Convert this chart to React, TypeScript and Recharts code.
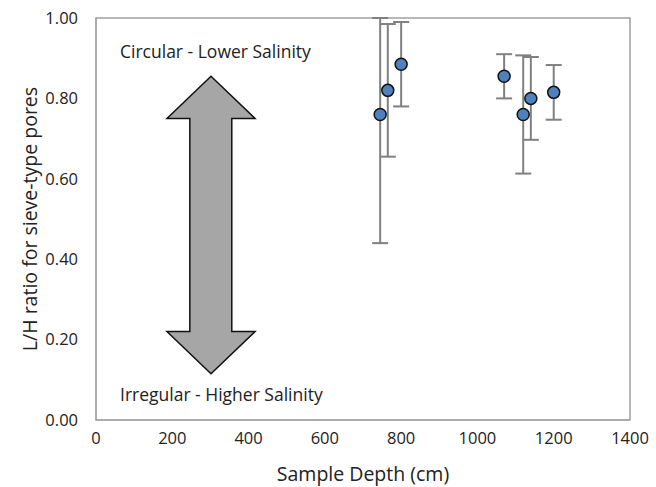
import {
  ScatterChart,
  Scatter,
  XAxis,
  YAxis,
  ErrorBar,
  ReferenceArea,
  ReferenceDot,
} from "recharts"

// sample depths (cm) and L/H ratios
const depths = [745, 765, 800, 1070, 1120, 1140, 1200]
const ratios = [0.76, 0.82, 0.885, 0.855, 0.76, 0.8, 0.815]
const errors = [0.32, 0.165, 0.105, 0.055, 0.147, 0.103, 0.068]

const xTicks = [0, 200, 400, 600, 800, 1000, 1200, 1400]
const yTicks = [0, 0.2, 0.4, 0.6, 0.8, 1.0]

// double arrow extent in data units
const arrowX = [186, 417]
const arrowY = [0.115, 0.855]
const shaftX = [246, 356]
const headY = [0.22, 0.75]

// error bars are cut at the top of the plot, like the original
const data = depths.map((d, i) => ({
  depth: d,
  ratio: ratios[i],
  err: [errors[i], Math.min(errors[i], 1 - ratios[i])],
}))

const font = "'Open Sans', 'Noto Sans', sans-serif"
const textColor = "#222"

function ArrowShape(props: any) {
  const { x, y, width, height } = props
  const sx = (v: number) => x + ((v - arrowX[0]) / (arrowX[1] - arrowX[0])) * width
  const sy = (v: number) => y + ((arrowY[1] - v) / (arrowY[1] - arrowY[0])) * height
  const cx = x + width / 2
  const pts = [
    [cx, y],
    [x + width, sy(headY[1])],
    [sx(shaftX[1]), sy(headY[1])],
    [sx(shaftX[1]), sy(headY[0])],
    [x + width, sy(headY[0])],
    [cx, y + height],
    [x, sy(headY[0])],
    [sx(shaftX[0]), sy(headY[0])],
    [sx(shaftX[0]), sy(headY[1])],
    [x, sy(headY[1])],
  ]
  return (
    <polygon
      points={pts.map((p) => p.join(",")).join(" ")}
      fill="#a6a6a6"
      stroke="#111"
      strokeWidth={1.5}
    />
  )
}

export default function App() {
  return (
    <div style={{ position: "absolute", left: 0, top: 0, background: "#fff" }}>
      <ScatterChart width={656} height={487} margin={{ top: 18, right: 26, bottom: 0, left: 0 }}>
        <XAxis
          type="number"
          dataKey="depth"
          domain={[0, 1400]}
          ticks={xTicks}
          height={67}
          tickLine={false}
          axisLine={{ stroke: "#a0a0a0" }}
          tickMargin={6}
          tick={{ fontSize: 16.5, fill: textColor, fontFamily: font }}
          label={{
            value: "Sample Depth (cm)",
            position: "insideBottom",
            offset: 6,
            style: { fontSize: 19.5, fill: textColor, fontFamily: font },
          }}
        />
        <YAxis
          type="number"
          dataKey="ratio"
          domain={[0, 1]}
          ticks={yTicks}
          allowDataOverflow
          width={96}
          tickLine={false}
          axisLine={{ stroke: "#a0a0a0" }}
          tickMargin={12}
          tickFormatter={(v: number) => v.toFixed(2)}
          tick={{ fontSize: 16.5, fill: textColor, fontFamily: font }}
          label={{
            value: "L/H ratio for sieve-type pores",
            angle: -90,
            position: "insideLeft",
            offset: 30,
            style: { fontSize: 19.5, fill: textColor, fontFamily: font, textAnchor: "middle" },
          }}
        />
        <ReferenceArea x1={0} x2={1400} y1={0} y2={1} fill="none" stroke="#a0a0a0" strokeWidth={1.5} />
        <ReferenceArea
          x1={arrowX[0]}
          x2={arrowX[1]}
          y1={arrowY[0]}
          y2={arrowY[1]}
          shape={<ArrowShape />}
        />
        <ReferenceDot
          x={63}
          y={0.915}
          r={0}
          fill="none"
          stroke="none"
          label={{
            value: "Circular - Lower Salinity",
            position: "right",
            offset: 0,
            style: { fontSize: 17.5, fill: textColor, fontFamily: font },
          }}
        />
        <ReferenceDot
          x={63}
          y={0.062}
          r={0}
          fill="none"
          stroke="none"
          label={{
            value: "Irregular - Higher Salinity",
            position: "right",
            offset: 0,
            style: { fontSize: 17.5, fill: textColor, fontFamily: font },
          }}
        />
        <Scatter
          data={data}
          fill="#4f81bd"
          stroke="#111"
          strokeWidth={1.5}
          isAnimationActive={false}
          shape={(p: any) => (
            <circle cx={p.cx} cy={p.cy} r={6} fill="#4f81bd" stroke="#111" strokeWidth={1.5} />
          )}
        >
          <ErrorBar
            dataKey="err"
            direction="y"
            width={8}
            stroke="#808080"
            strokeWidth={2}
            isAnimationActive={false}
          />
        </Scatter>
      </ScatterChart>
    </div>
  )
}
